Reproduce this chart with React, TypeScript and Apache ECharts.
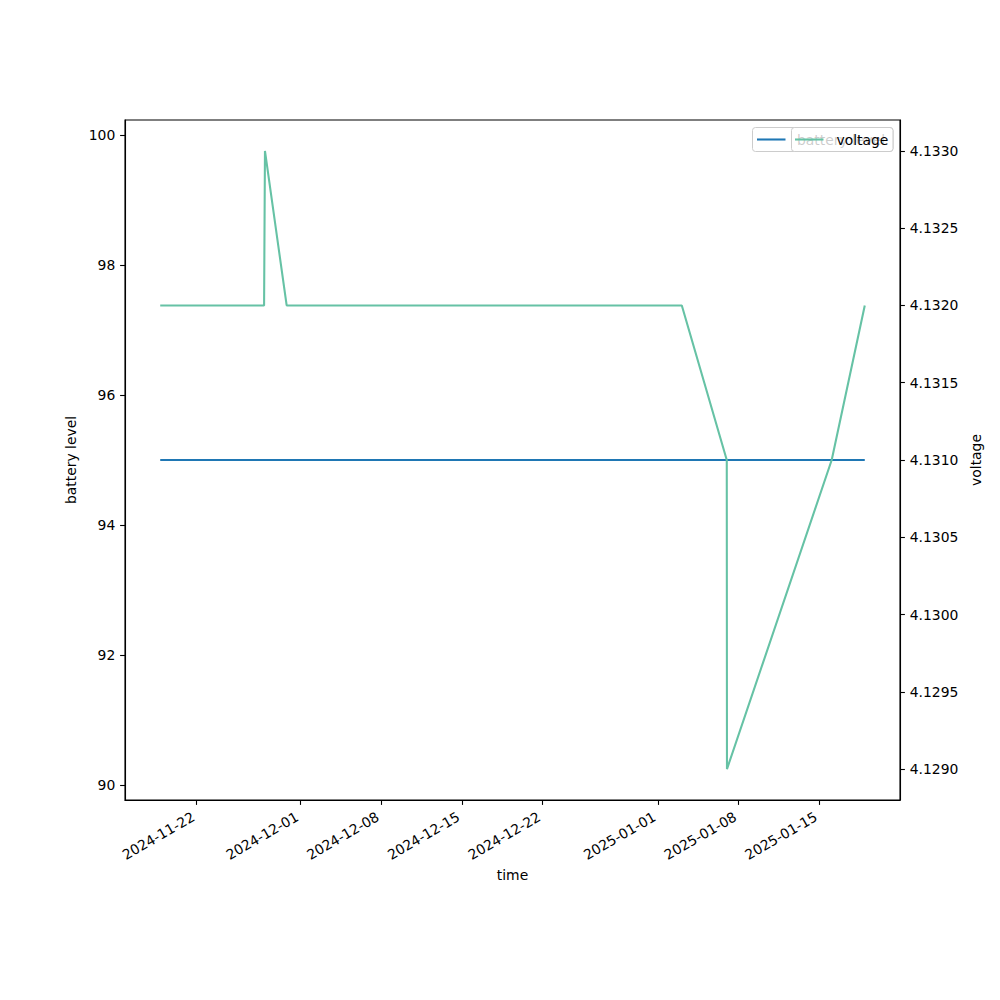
import React, { useEffect, useRef } from "react";
import * as echarts from "echarts";

const times = [
  "2024-11-18T20:00:00Z",
  "2024-11-27T20:10:00Z",
  "2024-11-27T22:00:00Z",
  "2024-11-29T19:10:00Z",
  "2025-01-03T01:40:00Z",
  "2025-01-06T23:15:00Z",
  "2025-01-06T23:40:00Z",
  "2025-01-16T01:40:00Z",
  "2025-01-18T22:30:00Z",
];
const batteryLevel = [95, 95, 95, 95, 95, 95, 95, 95, 95];
const voltage = [4.132, 4.132, 4.133, 4.132, 4.132, 4.131, 4.129, 4.131, 4.132];
const xTickDates = [
  "2024-11-22",
  "2024-12-01",
  "2024-12-08",
  "2024-12-15",
  "2024-12-22",
  "2025-01-01",
  "2025-01-08",
  "2025-01-15",
];
const batteryTicks = [90, 92, 94, 96, 98, 100];
const voltageTicks = [4.129, 4.1295, 4.13, 4.1305, 4.131, 4.1315, 4.132, 4.1325, 4.133];

const FONT = "DejaVu Sans";
const FS = 13.9;

export default function App() {
  const ref = useRef<HTMLDivElement>(null);
  useEffect(() => {
    if (!ref.current) return;
    const chart = echarts.init(ref.current, undefined, { renderer: "svg" });
    const ts = times.map((t) => Date.parse(t));
    const span = ts[ts.length - 1] - ts[0];
    const xMin = ts[0] - 0.05 * span;
    const xMax = ts[ts.length - 1] + 0.05 * span;
    const xTicks = xTickDates.map((d) => Date.parse(d + "T00:00:00Z"));

    const axisCommon = {
      axisLine: { show: true, lineStyle: { color: "#000", width: 1.1 } },
      axisTick: { show: true, length: 4.9, lineStyle: { color: "#000", width: 1.1 } },
      splitLine: { show: false },
      nameTextStyle: { color: "#000", fontSize: FS, fontFamily: FONT },
    };

    chart.setOption({
      animation: false,
      backgroundColor: "#fff",
      textStyle: { fontFamily: FONT },
      grid: {
        left: 125,
        right: 100,
        top: 120,
        bottom: 200,
        show: true,
        borderColor: "#000",
        borderWidth: 1.1,
        backgroundColor: "transparent",
      },
      xAxis: {
        type: "value",
        min: xMin,
        max: xMax,
        name: "time",
        nameLocation: "middle",
        nameGap: 65,
        ...axisCommon,
        axisTick: { ...axisCommon.axisTick, customValues: xTicks },
        axisLabel: {
          customValues: xTicks,
          rotate: 30,
          margin: 13.5,
          padding: [0, 4, 0, 0],
          color: "#000",
          fontSize: FS,
          fontFamily: FONT,
          formatter: (v: number) => new Date(v).toISOString().slice(0, 10),
        },
      },
      yAxis: [
        {
          type: "value",
          min: 89.77,
          max: 100.23,
          position: "left",
          name: "battery level",
          nameLocation: "middle",
          nameGap: 46,
          ...axisCommon,
          axisTick: { ...axisCommon.axisTick, customValues: batteryTicks },
          axisLabel: {
            customValues: batteryTicks,
            margin: 9.7,
            color: "#000",
            fontSize: FS,
            fontFamily: FONT,
            formatter: (v: number) => String(Math.round(v)),
          },
        },
        {
          type: "value",
          min: 4.1288,
          max: 4.1332,
          position: "right",
          name: "voltage",
          nameLocation: "middle",
          nameGap: 62,
          ...axisCommon,
          axisTick: { ...axisCommon.axisTick, customValues: voltageTicks },
          axisLabel: {
            customValues: voltageTicks,
            margin: 9.7,
            color: "#000",
            fontSize: FS,
            fontFamily: FONT,
            formatter: (v: number) => v.toFixed(4),
          },
        },
      ],
      series: [
        {
          type: "line",
          name: "battery level",
          yAxisIndex: 0,
          data: ts.map((t, i) => [t, batteryLevel[i]]),
          showSymbol: false,
          lineStyle: { color: "#1f77b4", width: 2.08 },
          itemStyle: { color: "#1f77b4" },
          z: 2,
        },
        {
          type: "line",
          name: "voltage",
          yAxisIndex: 1,
          data: ts.map((t, i) => [t, voltage[i]]),
          showSymbol: false,
          lineStyle: { color: "#66c2a5", width: 2.08 },
          itemStyle: { color: "#66c2a5" },
          z: 3,
        },
      ],
      graphic: [
        {
          type: "group",
          z: 100,
          children: [
            {
              type: "rect",
              shape: { x: 752.5, y: 127.5, width: 140.5, height: 24, r: 3 },
              style: { fill: "rgba(255,255,255,0.8)", stroke: "#cccccc", lineWidth: 1 },
            },
            {
              type: "line",
              shape: { x1: 757, y1: 139.5, x2: 785.5, y2: 139.5 },
              style: { stroke: "#1f77b4", lineWidth: 2.08 },
            },
            {
              type: "text",
              x: 797,
              y: 139.5,
              style: {
                text: "battery level",
                fill: "#000",
                fontSize: FS,
                fontFamily: FONT,
                verticalAlign: "middle",
              },
            },
            {
              type: "rect",
              shape: { x: 791.5, y: 127.5, width: 101.5, height: 24, r: 3 },
              style: { fill: "rgba(255,255,255,0.8)", stroke: "#cccccc", lineWidth: 1 },
            },
            {
              type: "line",
              shape: { x1: 795, y1: 139.5, x2: 823.5, y2: 139.5 },
              style: { stroke: "#66c2a5", lineWidth: 2.08 },
            },
            {
              type: "text",
              x: 836.5,
              y: 139.5,
              style: {
                text: "voltage",
                fill: "#000",
                fontSize: FS,
                fontFamily: FONT,
                verticalAlign: "middle",
              },
            },
          ],
        },
      ],
    });
    return () => chart.dispose();
  }, []);
  return (
    <div
      ref={ref}
      style={{ position: "fixed", left: 0, top: 0, width: 1000, height: 1000, background: "#fff" }}
    />
  );
}
